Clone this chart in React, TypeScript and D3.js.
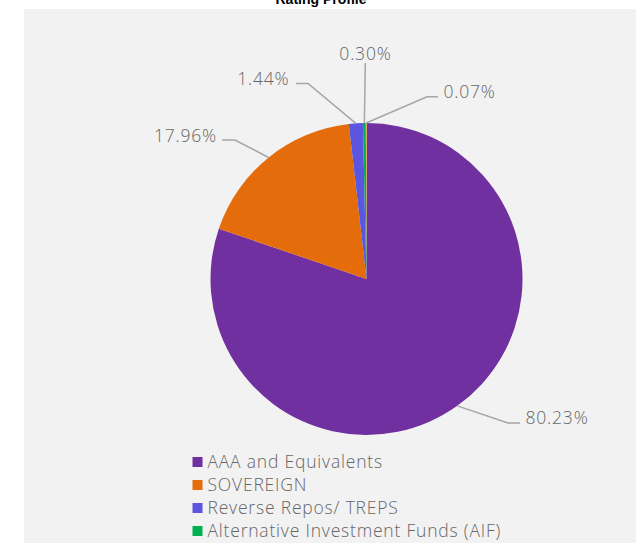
import React from "react";
import * as d3 from "d3";

const categories = [
  "AAA and Equivalents",
  "SOVEREIGN",
  "Reverse Repos/ TREPS",
  "Alternative Investment Funds (AIF)",
  "Net Current Assets",
];
const values = [80.23, 17.96, 1.44, 0.3, 0.07];
const labels = ["80.23%", "17.96%", "1.44%", "0.30%", "0.07%"];
const colors = ["#7030A0", "#E46C0A", "#5B55E0", "#00B050", "#F2C314"];
const legendCount = 4;

// label layout: elbow point, line end, text anchor point
const labelLayout = [
  { elbow: [508, 423], end: [520, 423], text: [525.5, 424], anchor: "start" },
  { elbow: [235, 140], end: [222, 140], text: [217, 141.8], anchor: "end" },
  { elbow: [308, 83.5], end: [296, 83.5], text: [289.5, 85.2], anchor: "end" },
  { elbow: [365.3, 63], end: [365.3, 63], text: [365.5, 59.8], anchor: "middle" },
  { elbow: [427, 96.7], end: [438, 96.7], text: [443.5, 97.5], anchor: "start" },
];

const W = 636;
const H = 543;
const cx = 366.5;
const cy = 279;
const R = 156;

export default function App() {
  const pie = d3.pie<number>().sort(null).value((d) => d);
  const arcs = pie(values);
  const arc = d3.arc<d3.PieArcDatum<number>>().innerRadius(0).outerRadius(R);
  const font = "'Open Sans', Lato, sans-serif";
  const textColor = "#666666";
  const legendY = d3.scaleLinear().domain([0, 3]).range([461.7, 530.7]);

  return (
    <svg
      width={W}
      height={H}
      style={{ position: "absolute", left: 0, top: 0, display: "block" }}
    >
      <rect x={0} y={0} width={W} height={H} fill="#FFFFFF" />
      <rect x={24} y={9} width={W - 24} height={H - 9} fill="#F2F2F2" />
      <text
        x={321}
        y={4}
        textAnchor="middle"
        fontFamily="'Liberation Sans', Arial, sans-serif"
        fontWeight="bold"
        fontSize={14}
        fill="#000"
      >
        Rating Profile
      </text>
      <g transform={`translate(${cx},${cy})`}>
        {arcs.map((a, i) => (
          <path key={i} d={arc(a) || ""} fill={colors[i]} />
        ))}
      </g>
      {arcs.map((a, i) => {
        const mid = (a.startAngle + a.endAngle) / 2;
        const sx = cx + R * Math.sin(mid);
        const sy = cy - R * Math.cos(mid);
        const L = labelLayout[i];
        const pts: [number, number][] = [
          [sx, sy],
          [L.elbow[0], L.elbow[1]],
          [L.end[0], L.end[1]],
        ];
        return (
          <g key={i}>
            <path
              d={d3.line()(pts) || ""}
              fill="none"
              stroke="#A6A6A6"
              strokeWidth={1.5}
            />
            <text
              x={L.text[0]}
              y={L.text[1]}
              textAnchor={L.anchor as any}
              fontFamily={font}
              fontWeight={300}
              fontSize={17.5}
              letterSpacing={0.8}
              fill={textColor}
            >
              {labels[i]}
            </text>
          </g>
        );
      })}
      {categories.slice(0, legendCount).map((c, i) => (
        <g key={c}>
          <rect
            x={192.5}
            y={legendY(i) - 4.7}
            width={10}
            height={10}
            fill={colors[i]}
          />
          <text
            x={207.5}
            y={legendY(i) + 6.5}
            fontFamily={font}
            fontWeight={300}
            fontSize={17.5}
            letterSpacing={0.8}
            fill={textColor}
          >
            {c}
          </text>
        </g>
      ))}
    </svg>
  );
}
